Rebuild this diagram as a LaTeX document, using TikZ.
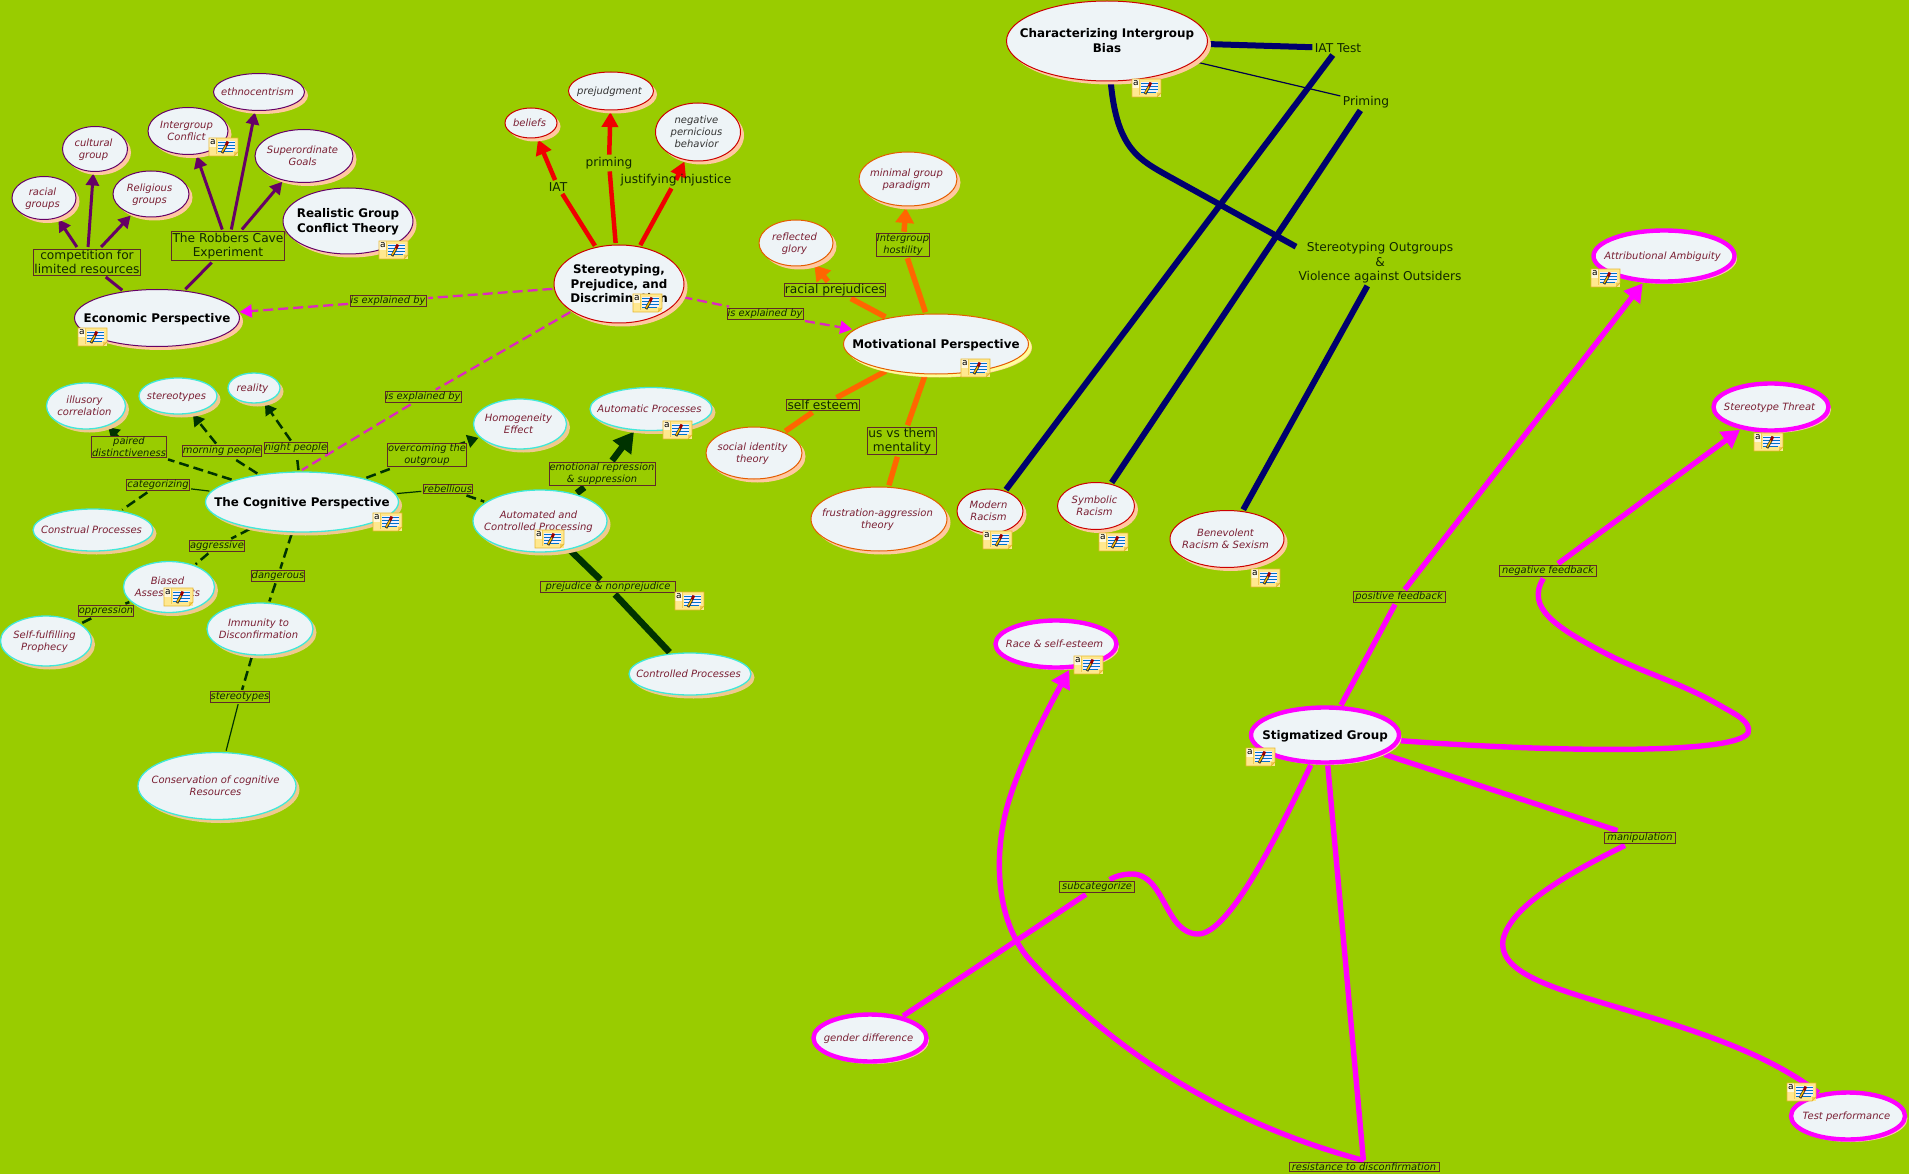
\documentclass[tikz,border=0pt]{standalone}
\usepackage{fontspec}
\setmainfont{DejaVu Sans}
\usetikzlibrary{shapes.geometric, arrows.meta, shadows, backgrounds}
\definecolor{mapgreen}{HTML}{99CC00}
\definecolor{conceptfill}{HTML}{EEF4F7}
\definecolor{conceptink}{HTML}{7A1F33}
\definecolor{boxedge}{HTML}{5F2A2A}
\definecolor{linkink}{HTML}{102800}
\definecolor{peach}{HTML}{FFC8A0}
\definecolor{tan}{HTML}{EFC98F}
\definecolor{rose}{HTML}{FFC4B0}
\definecolor{palelemon}{HTML}{FFFF99}
\definecolor{econpurple}{HTML}{660066}
\definecolor{stereored}{HTML}{F00000}
\definecolor{motivorange}{HTML}{FF6600}
\definecolor{cogcyan}{HTML}{40E8D8}
\definecolor{coggreen}{HTML}{003300}
\definecolor{biasnavy}{HTML}{00006E}
\definecolor{stigma}{HTML}{FF00FF}
\definecolor{explained}{HTML}{DC28C0}
\definecolor{notefill}{HTML}{FFE88F}
\definecolor{noteedge}{HTML}{E8B830}
\newcommand{\cshift}{-3pt}
\newcommand{\ctxt}[1]{\makebox[0pt]{\hspace*{\cshift}\smash{\raisebox{-.35em}{\begin{tabular}[c]{@{}c@{}}#1\end{tabular}}}}}
\tikzset{
    dims/.style 2 args={minimum width=#1pt, minimum height=#2pt},
    concept/.style={ellipse, draw, fill=conceptfill, line width=1pt, inner sep=0pt, outer sep=2pt, text=conceptink, font=\itshape\fontsize{10}{12}\selectfont},
    headc/.style={text=black, font=\bfseries\fontsize{11.9}{14.5}\selectfont\renewcommand{\cshift}{0pt}},
    econc/.style={concept, draw=econpurple, drop shadow={shadow xshift=3.5pt, shadow yshift=-3.5pt, fill=peach, opacity=1}},
    redc/.style={concept, draw=stereored!85!black, drop shadow={shadow xshift=3.5pt, shadow yshift=-3.5pt, fill=peach, opacity=1}},
    orangec/.style={concept, draw=motivorange!90!black, drop shadow={shadow xshift=3.5pt, shadow yshift=-3.5pt, fill=peach, opacity=1}},
    cogc/.style={concept, draw=cogcyan, line width=1.3pt, drop shadow={shadow xshift=3.5pt, shadow yshift=-3.5pt, fill=tan, opacity=1}},
    stigc/.style={concept, draw=stigma, line width=4.4pt, outer sep=3pt, drop shadow={shadow xshift=2.5pt, shadow yshift=-2.5pt, fill=rose, opacity=1}},
    linkbox/.style={rectangle, draw=boxedge, fill=mapgreen, line width=0.9pt, inner sep=0.6pt, outer sep=2pt, align=center, text=linkink, font=\itshape\fontsize{9.9}{12}\selectfont},
    plainbox/.style={linkbox, font=\fontsize{12.2}{14.5}\selectfont},
    freetext/.style={rectangle, inner sep=0.5pt, outer sep=2pt, align=center, text=linkink, font=\fontsize{12.2}{14.5}\selectfont},
    econlink/.style={draw=econpurple, line width=3pt, >={Triangle[length=12pt, width=13pt]}},
    redlink/.style={draw=stereored, line width=4.5pt, >={Triangle[length=15pt, width=16pt]}},
    orangelink/.style={draw=motivorange, line width=5.5pt, >={Triangle[length=15pt, width=18pt]}},
    coglink/.style={draw=coggreen, line width=2.5pt, dash pattern=on 10pt off 5pt, >={Triangle[length=11pt, width=13pt]}},
    cogthin/.style={draw=coggreen, line width=1.2pt},
    cogthick/.style={draw=coggreen, line width=6.5pt, >={Triangle[length=20pt, width=22pt]}},
    biaslink/.style={draw=biasnavy, line width=6pt},
    stiglink/.style={draw=stigma, line width=5.4pt, >={Triangle[length=18pt, width=20pt]}},
    explink/.style={draw=explained, line width=2.3pt, dash pattern=on 10pt off 5pt, >={Triangle[length=12pt, width=13pt, fill=stigma, stigma]}},
    noteicon/.pic={
        \fill[fill=notefill] (0,0) rectangle (29,18);
        \fill[fill=white!70!notefill] (0,0) rectangle (7.5,9);
        \fill[fill=noteedge!60!notefill] (29,14) -- (25,18) -- (25,14) -- cycle;
        \draw[draw=noteedge, line width=0.9pt] (0,0) -- (29,0) -- (29,14) -- (25,18) -- (0,18) -- cycle;
        \draw[draw=noteedge!60!notefill, line width=0.5pt] (7.5,0) -- (7.5,16);
        \node[inner sep=0pt, text=black, font=\fontsize{9}{9}\selectfont] (-letter) at (3.8,4.5) {a};
        \fill[fill=blue!6] (9,3) rectangle (26,13);
        \draw[draw=blue!45!cyan!80!black, line width=0.7pt] (9,4.5) -- (26,4.5) (9,7.5) -- (26,7.5) (9,10.5) -- (26,10.5) (9,13) -- (24,13);
        \draw[draw=black!80, line width=2.8pt] (13,15) -- (17,7.5);
        \draw[draw=orange!50!yellow, line width=1.2pt] (13.2,14) -- (17,7.5);
        \draw[draw=red!60!black, line width=2.8pt] (17,7.5) -- (18.8,3.5);
    }
}
\begin{document}
\begin{tikzpicture}[x=1pt, y=-1pt]
    \useasboundingbox (0,0) rectangle (1909,1174);
    \node [econc, dims={91}{37}] (ethno) at (259,92) {\ctxt{ethnocentrism}};
    \node [econc, dims={80}{47}] (intergroup) at (188,131) {\ctxt{Intergroup\\Conflict}};
    \node [econc, dims={65}{45}] (cultural) at (95,149) {\ctxt{cultural\\group}};
    \node [econc, dims={64}{43}] (racial) at (44,198) {\ctxt{racial\\groups}};
    \node [econc, dims={76}{46}] (religious) at (151,194) {\ctxt{Religious\\groups}};
    \node [econc, dims={98}{53}] (superord) at (304,156) {\ctxt{Superordinate\\Goals}};
    \node [econc, headc, dims={130}{66}] (realistic) at (348,221) {\ctxt{Realistic Group\\Conflict Theory}};
    \node [econc, headc, dims={165}{57}] (econ) at (157,318) {\ctxt{Economic Perspective}};
    \node [plainbox, minimum width=111pt, minimum height=29pt] (robbers) at (228,246) {The Robbers Cave\\Experiment};
    \node [plainbox, minimum width=105pt, minimum height=26pt] (compet) at (87,262) {competition for\\limited resources};
    \node [redc, dims={52}{30}] (beliefs) at (531,123) {\ctxt{beliefs}};
    \node [redc, text=black!80, dims={85}{38}] (prejudg) at (611,91) {\ctxt{prejudgment}};
    \node [redc, text=black!80, dims={85}{58}] (negative) at (698,132) {\ctxt{negative\\pernicious\\behavior}};
    \node [redc, headc, dims={130}{78}] (stereo) at (619,284) {\ctxt{Stereotyping,\\Prejudice, and\\Discrimination}};
    \node [freetext] (iat) at (558,187) {IAT};
    \node [freetext] (priming) at (609,163) {priming};
    \node [freetext] (justify) at (676,180) {justifying injustice};
    \node [orangec, dims={98}{54}] (minimal) at (908,179) {\ctxt{minimal group\\paradigm}};
    \node [orangec, dims={74}{46}] (reflected) at (796,243) {\ctxt{reflected\\glory}};
    \node [orangec, headc, dims={185}{60}, drop shadow={shadow xshift=3pt, shadow yshift=-3pt, fill=palelemon, opacity=1}] (motiv) at (936,344) {\ctxt{Motivational Perspective}};
    \node [orangec, dims={96}{52}] (socialid) at (754,453) {\ctxt{social identity\\theory}};
    \node [orangec, dims={136}{64}] (frustr) at (879,519) {\ctxt{frustration-aggression\\theory}};
    \node [plainbox] (racepre) at (835,290) {racial prejudices};
    \node [linkbox] (hostility) at (903,245) {Intergroup\\hostility};
    \node [plainbox] (selfest) at (823,405) {self esteem};
    \node [plainbox, minimum width=69pt] (usthem) at (902,441) {us vs them\\mentality};
    \node [linkbox] (explA) at (388,301) {is explained by};
    \node [linkbox] (explB) at (765,314) {is explained by};
    \node [linkbox] (explC) at (423,397) {is explained by};
    \node [cogc, dims={79}{46}] (illusory) at (86,406) {\ctxt{illusory\\correlation}};
    \node [cogc, dims={78}{36}] (stereotypes) at (178,396) {\ctxt{stereotypes}};
    \node [cogc, dims={52}{30}] (reality) at (254,388) {\ctxt{reality}};
    \node [cogc, headc, dims={193}{60}] (cognitive) at (302,502) {\ctxt{The Cognitive Perspective}};
    \node [cogc, dims={120}{42}] (construal) at (93,530) {\ctxt{Construal Processes}};
    \node [cogc, dims={91}{51}] (biased) at (169,587) {\ctxt{Biased\\Assessments}};
    \node [cogc, dims={91}{50}] (selffulfil) at (46,641) {\ctxt{Self-fulfilling\\Prophecy}};
    \node [cogc, dims={106}{52}] (immunity) at (260,629) {\ctxt{Immunity to\\Disconfirmation}};
    \node [cogc, dims={158}{67}] (conserv) at (217,786) {\ctxt{Conservation of cognitive\\Resources}};
    \node [cogc, dims={93}{50}] (homog) at (520,424) {\ctxt{Homogeneity\\Effect}};
    \node [cogc, dims={122}{43}] (automatic) at (651,409) {\ctxt{Automatic Processes}};
    \node [cogc, dims={134}{62}] (automated) at (540,521) {\ctxt{Automated and\\Controlled Processing}};
    \node [cogc, dims={122}{42}] (controlled) at (690,674) {\ctxt{Controlled Processes}};
    \node [linkbox] (paired) at (129,447) {paired\\distinctiveness};
    \node [linkbox] (morning) at (222,451) {morning people};
    \node [linkbox] (night) at (296,448) {night people};
    \node [linkbox] (overcome) at (427,455) {overcoming the\\outgroup};
    \node [linkbox] (categor) at (158,485) {categorizing};
    \node [linkbox] (rebel) at (448,489) {rebellious};
    \node [linkbox] (aggress) at (217,546) {aggressive};
    \node [linkbox] (danger) at (278,576) {dangerous};
    \node [linkbox] (oppress) at (106,611) {oppression};
    \node [linkbox] (stereolab) at (240,697) {stereotypes};
    \node [linkbox] (emotion) at (602,474) {emotional repression\\\& suppression};
    \node [linkbox, minimum width=135pt] (prejnon) at (608,587) {prejudice \& nonprejudice};
    \node [redc, headc, dims={201}{80}] (charact) at (1107,41) {\ctxt{Characterizing Intergroup\\Bias}};
    \node [freetext] (iattest) at (1338,48) {IAT Test};
    \node [freetext] (primtest) at (1366,102) {Priming};
    \node [freetext] (stout) at (1380,263) {Stereotyping Outgroups\\\&\\Violence against Outsiders};
    \node [redc, dims={66}{44}] (modern) at (990,511) {\ctxt{Modern\\Racism}};
    \node [redc, dims={77}{47}] (symbolic) at (1096,506) {\ctxt{Symbolic\\Racism}};
    \node [redc, dims={114}{57}] (benevol) at (1227,539) {\ctxt{Benevolent\\Racism \& Sexism}};
    \node [stigc, dims={141}{51}] (attrib) at (1664,256) {\ctxt{Attributional Ambiguity}};
    \node [stigc, dims={115}{47}] (threat) at (1771,407) {\ctxt{Stereotype Threat}};
    \node [stigc, dims={121}{47}] (race) at (1056,644) {\ctxt{Race \& self-esteem}};
    \node [stigc, headc, dims={148}{55}] (stigmat) at (1325,735) {\ctxt{Stigmatized Group}};
    \node [stigc, dims={113}{47}] (gender) at (870,1038) {\ctxt{gender difference}};
    \node [stigc, dims={114}{47}] (testperf) at (1848,1116) {\ctxt{Test performance}};
    \node [linkbox, minimum width=92pt] (posfeed) at (1399,597) {positive feedback};
    \node [linkbox, minimum width=97pt] (negfeed) at (1548,571) {negative feedback};
    \node [linkbox, minimum width=71pt] (manip) at (1640,838) {manipulation};
    \node [linkbox, minimum width=75pt] (subcat) at (1097,887) {subcategorize};
    \node [linkbox, minimum width=150pt] (resist) at (1364,1167) {resistance to disconfirmation};
    \pic (noteintergroup) at (209,138) {noteicon};
    \pic (noterealistic) at (379,241) {noteicon};
    \pic (noteecon) at (78,328) {noteicon};
    \pic (notestereo) at (633,294) {noteicon};
    \pic (notemotiv) at (961,359) {noteicon};
    \pic (notecog) at (373,513) {noteicon};
    \pic (notebiased) at (164,588) {noteicon};
    \pic (noteautomatic) at (663,421) {noteicon};
    \pic (noteautomated) at (535,530) {noteicon};
    \pic (noteprejnon) at (675,592) {noteicon};
    \pic (notecharact) at (1132,79) {noteicon};
    \pic (notemodern) at (983,531) {noteicon};
    \pic (notesymbolic) at (1099,533) {noteicon};
    \pic (notebenevol) at (1251,569) {noteicon};
    \pic (noteattrib) at (1591,269) {noteicon};
    \pic (notethreat) at (1754,433) {noteicon};
    \pic (noterace) at (1074,656) {noteicon};
    \pic (notestigmat) at (1246,748) {noteicon};
    \pic (notetest) at (1787,1083) {noteicon};
    \begin{pgfonlayer}{background}
        \fill[mapgreen] (0,0) rectangle (1909,1174);
        \draw[econlink] (econ) -- (compet);
        \draw[econlink, ->] (compet) -- (racial);
        \draw[econlink, ->] (compet) -- (cultural);
        \draw[econlink, ->] (compet) -- (religious);
        \draw[econlink] (econ) -- (robbers);
        \draw[econlink, ->] (robbers) -- (intergroup);
        \draw[econlink, ->] (robbers) -- (ethno);
        \draw[econlink, ->] (robbers) -- (superord);
        \draw[econlink] (robbers) -- (realistic);
        \draw[redlink] (stereo) -- (iat);
        \draw[redlink, ->] (iat) -- (beliefs);
        \draw[redlink] (stereo) -- (priming);
        \draw[redlink, ->] (priming) -- (prejudg);
        \draw[redlink] (stereo) -- (justify);
        \draw[redlink, ->] (justify.center) -- (negative);
        \draw[explink] (stereo) -- (explA);
        \draw[explink, ->] (explA) -- (econ);
        \draw[explink] (stereo) -- (explB);
        \draw[explink, ->] (explB) -- (motiv);
        \draw[explink] (stereo) -- (explC);
        \draw[explink] (explC) -- (cognitive.north);
        \draw[orangelink] (motiv) -- (racepre);
        \draw[orangelink, ->] (racepre) -- (reflected);
        \draw[orangelink] (motiv) -- (hostility);
        \draw[orangelink, ->] (hostility) -- (minimal);
        \draw[orangelink] (motiv) -- (selfest);
        \draw[orangelink] (selfest) -- (socialid);
        \draw[orangelink] (motiv) -- (usthem);
        \draw[orangelink] (usthem) -- (frustr);
        \draw[coglink] (cognitive) -- (paired);
        \draw[coglink, ->] (paired.center) -- (illusory);
        \draw[coglink] (cognitive) -- (morning);
        \draw[coglink, ->] (morning) -- (stereotypes);
        \draw[coglink] (cognitive) -- (night);
        \draw[coglink, ->] (night) -- (reality);
        \draw[coglink] (cognitive) -- (overcome);
        \draw[coglink, ->] (overcome.center) -- (homog);
        \draw[cogthin] (cognitive) -- (rebel);
        \draw[coglink] (rebel) -- (automated);
        \draw[cogthin] (cognitive) -- (categor);
        \draw[coglink] (categor) -- (construal);
        \draw[coglink] (cognitive) -- (aggress);
        \draw[coglink] (aggress) -- (biased);
        \draw[coglink] (cognitive) -- (danger);
        \draw[coglink] (danger) -- (immunity);
        \draw[coglink] (biased) -- (oppress);
        \draw[coglink] (oppress) -- (selffulfil);
        \draw[coglink] (immunity) -- (stereolab);
        \draw[cogthin] (stereolab) -- (conserv);
        \draw[cogthick] (automated) -- (emotion);
        \draw[cogthick, ->] (emotion) -- (automatic);
        \draw[cogthick] (automated) -- (prejnon);
        \draw[cogthick] (prejnon) -- (controlled);
        \draw[biaslink] (charact) -- (iattest);
        \draw[draw=biasnavy!70!black, line width=1.2pt] (charact) -- (primtest);
        \draw[biaslink] (charact) .. controls (1117,150) and (1140,160) .. (1170,177) -- (stout.169);
        \draw[biaslink] (modern) -- (iattest);
        \draw[biaslink] (symbolic) -- (primtest);
        \draw[biaslink] (benevol) -- (stout);
        \draw[stiglink] (stigmat) -- (posfeed);
        \draw[stiglink, ->] (posfeed) -- (attrib);
        \draw[stiglink] (stigmat) .. controls (1550,752) and (1735,755) .. (1748,733) .. controls (1752,722) and (1735,714) .. (1721,706) .. controls (1680,682) and (1640,672) .. (1601,651) .. controls (1558,628) and (1525,608) .. (negfeed);
        \draw[stiglink, ->] (negfeed) -- (threat);
        \draw[stiglink] (stigmat) -- (manip);
        \draw[stiglink] (manip) .. controls (1575,870) and (1510,905) .. (1503,940) .. controls (1498,975) and (1560,990) .. (1633,1012) .. controls (1700,1032) and (1770,1055) .. (testperf);
        \draw[stiglink] (stigmat) .. controls (1280,830) and (1230,934) .. (1198,934) .. controls (1165,934) and (1165,874) .. (1132,874) .. controls (1122,874) and (1114,877) .. (subcat);
        \draw[stiglink] (subcat) -- (gender);
        \draw[stiglink] (stigmat) -- (resist);
        \draw[stiglink, ->] (resist.north) .. controls (1250,1130) and (1130,1070) .. (1029,959) .. controls (995,920) and (992,850) .. (1011,794) .. controls (1025,752) and (1050,705) .. (race.297);
    \end{pgfonlayer}
\end{tikzpicture}
\end{document}
